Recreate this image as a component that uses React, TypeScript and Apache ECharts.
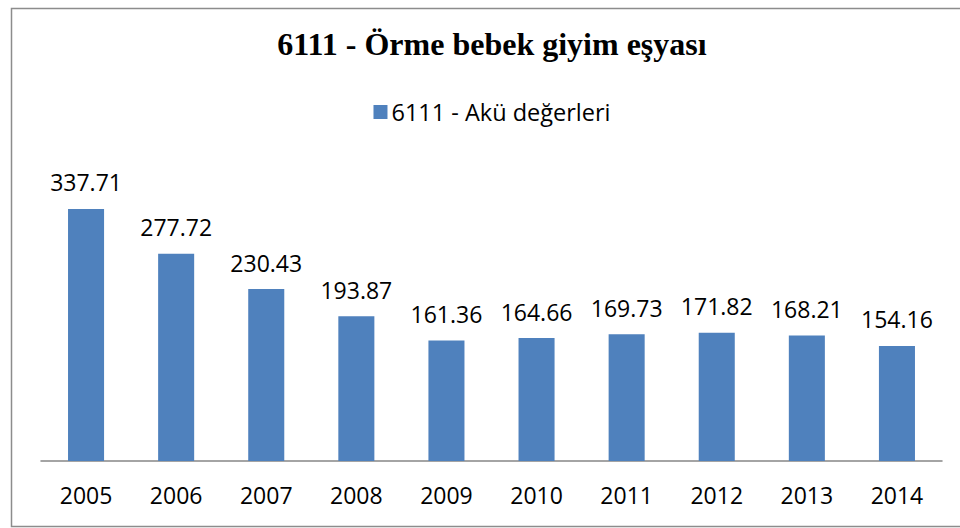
import React, { useEffect, useRef } from "react";
import * as echarts from "echarts";

const TITLE = "6111 - Örme bebek giyim eşyası";
const SERIES_NAME = "6111 - Akü değerleri";
const years = ["2005", "2006", "2007", "2008", "2009", "2010", "2011", "2012", "2013", "2014"];
const values = [337.71, 277.72, 230.43, 193.87, 161.36, 164.66, 169.73, 171.82, 168.21, 154.16];

const SANS = "'Open Sans', 'Noto Sans', sans-serif";

export default function App() {
  const ref = useRef<HTMLDivElement>(null);
  useEffect(() => {
    if (!ref.current) return;
    const chart = echarts.init(ref.current, null, { renderer: "svg" });
    chart.setOption({
      animation: false,
      backgroundColor: "#ffffff",
      title: {
        text: TITLE,
        left: "center",
        top: 23,
        textStyle: {
          fontFamily: "'Liberation Serif', 'Times New Roman', serif",
          fontWeight: "bold",
          fontSize: 32,
          color: "#000000",
        },
      },
      legend: {
        data: [SERIES_NAME],
        left: "center",
        top: 95,
        icon: "rect",
        itemWidth: 14,
        itemHeight: 14,
        itemGap: 10,
        textStyle: { fontFamily: SANS, fontSize: 23.5, color: "#000000", padding: [0, 0, 0, -1] },
      },
      grid: { left: 41, right: 42, top: 162.5, bottom: 67, containLabel: false },
      xAxis: {
        type: "category",
        data: years,
        axisLine: { show: true, lineStyle: { color: "#868686", width: 1.5 } },
        axisTick: { show: false },
        axisLabel: { fontFamily: SANS, fontSize: 23, color: "#000000", margin: 22 },
      },
      yAxis: {
        type: "value",
        min: 0,
        max: 400,
        show: false,
        splitLine: { show: false },
      },
      series: [
        {
          name: SERIES_NAME,
          type: "bar",
          data: values,
          barWidth: "40%",
          itemStyle: { color: "#4F81BD" },
          label: {
            show: true,
            position: "top",
            distance: 15,
            fontFamily: SANS,
            fontSize: 23,
            color: "#000000",
            formatter: (p: any) => p.value.toFixed(2),
          },
        },
      ],
      graphic: [
        {
          type: "rect",
          shape: { x: 11.5, y: 8.5, width: 965, height: 518 },
          style: { fill: "none", stroke: "#8c8c8c", lineWidth: 1.5 },
          silent: true,
        },
      ],
    });
    return () => chart.dispose();
  }, []);
  return (
    <div style={{ position: "fixed", left: 0, top: 0, width: 960, height: 528, overflow: "hidden", background: "#fff" }}>
      <div ref={ref} style={{ width: 984, height: 528 }} />
    </div>
  );
}
